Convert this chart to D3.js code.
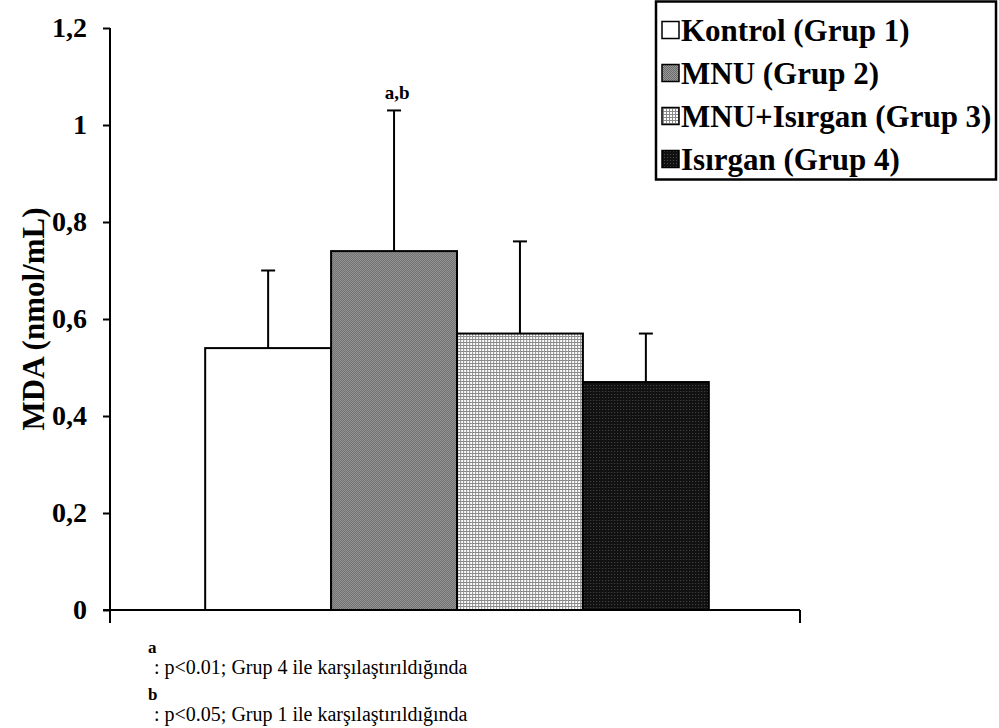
<!DOCTYPE html>
<html>
<head>
<meta charset="utf-8">
<script src="https://cdn.jsdelivr.net/npm/d3@7"></script>
<style>
  html, body { margin: 0; padding: 0; background: #fff; }
  svg { display: block; }
  text { font-family: "Liberation Serif", "Times New Roman", serif; fill: #000; }
</style>
</head>
<body>
<svg id="chart" width="999" height="728"></svg>
<script>
// Group labels, means and SD (MDA, nmol/mL)
const groups = ["Kontrol (Grup 1)", "MNU (Grup 2)", "MNU+Isırgan (Grup 3)", "Isırgan (Grup 4)"];
const means = [0.54, 0.74, 0.57, 0.47];
const sds = [0.16, 0.29, 0.19, 0.10];
const yTicks = [0, 0.2, 0.4, 0.6, 0.8, 1, 1.2];
const yTickLabels = ["0", "0,2", "0,4", "0,6", "0,8", "1", "1,2"];
const sigLabels = ["", "a,b", "", ""];
const footnotes = [
  { mark: "a", text: ": p<0.01; Grup 4 ile karşılaştırıldığında" },
  { mark: "b", text: ": p<0.05; Grup 1 ile karşılaştırıldığında" }
];

const svg = d3.select("#chart");
const defs = svg.append("defs");

// Fill patterns for each group
function pattern(id, size, bg, cells) {
  const p = defs.append("pattern").attr("id", id)
    .attr("patternUnits", "userSpaceOnUse").attr("width", size).attr("height", size);
  p.append("rect").attr("width", size).attr("height", size).attr("fill", bg);
  cells.forEach(c => p.append("rect").attr("x", c[0]).attr("y", c[1])
    .attr("width", c[2]).attr("height", c[3]).attr("fill", c[4]));
  return "url(#" + id + ")";
}
const fills = [
  "#ffffff",
  pattern("pGray", 2, "#9a9a9a", [[0, 0, 1, 1, "#6a6a6a"], [1, 1, 1, 1, "#6a6a6a"]]),
  pattern("pGrid", 3, "#ffffff", [[0, 0, 3, 1, "#8a8a8a"], [0, 0, 1, 3, "#8a8a8a"]]),
  pattern("pDark", 3, "#111111", [[1, 1, 1, 1, "#4a4a4a"]])
];

const plotLeft = 110, plotRight = 800, plotTop = 28, plotBottom = 610;

const y = d3.scaleLinear().domain([0, 1.2]).range([plotBottom, plotTop]);
const x0 = d3.scaleBand().domain(["MDA"]).range([plotLeft, plotRight]).paddingOuter(0.185).paddingInner(0);
const x1 = d3.scaleBand().domain(groups).range([0, x0.bandwidth()]).padding(0);

// Bars
const g = svg.append("g").attr("transform", `translate(${x0("MDA") + 2},0)`);
g.selectAll("rect.bar").data(groups).join("rect")
  .attr("class", "bar")
  .attr("x", d => x1(d))
  .attr("y", (d, i) => y(means[i]))
  .attr("width", x1.bandwidth())
  .attr("height", (d, i) => y(0) - y(means[i]))
  .attr("fill", (d, i) => fills[i])
  .attr("stroke", "#000").attr("stroke-width", 2);

// Error bars (upper only)
const cap = 7;
groups.forEach((d, i) => {
  const cx = x1(d) + x1.bandwidth() / 2;
  const top = y(means[i] + sds[i]);
  g.append("line").attr("x1", cx).attr("x2", cx)
    .attr("y1", y(means[i])).attr("y2", top)
    .attr("stroke", "#000").attr("stroke-width", 2);
  g.append("line").attr("x1", cx - cap).attr("x2", cx + cap)
    .attr("y1", top).attr("y2", top)
    .attr("stroke", "#000").attr("stroke-width", 2);
  if (sigLabels[i]) {
    g.append("text").attr("x", cx + 3).attr("y", top - 11)
      .attr("text-anchor", "middle").attr("font-weight", "bold").attr("font-size", 19)
      .text(sigLabels[i]);
  }
});

// Y axis
const yAxis = d3.axisLeft(y).tickValues(yTicks)
  .tickFormat((d, i) => yTickLabels[i]).tickSize(7).tickPadding(16);
const ya = svg.append("g").attr("transform", `translate(${plotLeft},0)`).call(yAxis);
ya.select(".domain").attr("d", `M0,${plotTop}V${plotBottom + 13}`).attr("stroke-width", 2);
ya.selectAll(".tick line").attr("stroke-width", 2);
ya.selectAll(".tick text").attr("font-family", "Liberation Serif, Times New Roman, serif")
  .attr("font-weight", "bold").attr("font-size", 28).attr("fill", "#000");

// X axis with boundary ticks at both ends
const xa = svg.append("g");
xa.append("line").attr("x1", plotLeft - 7).attr("x2", plotRight).attr("y1", plotBottom).attr("y2", plotBottom)
  .attr("stroke", "#000").attr("stroke-width", 2);
xa.append("line").attr("x1", plotRight).attr("x2", plotRight).attr("y1", plotBottom).attr("y2", plotBottom + 13)
  .attr("stroke", "#000").attr("stroke-width", 2);

// Y axis title
svg.append("text")
  .attr("transform", `translate(33,${(plotTop + plotBottom) / 2}) rotate(-90)`)
  .attr("text-anchor", "middle").attr("dominant-baseline", "central")
  .attr("font-weight", "bold").attr("font-size", 31)
  .text("MDA (nmol/mL)");

// Legend
const lg = svg.append("g");
lg.append("rect").attr("x", 656).attr("y", 1.5).attr("width", 340).attr("height", 178)
  .attr("fill", "#fff").attr("stroke", "#000").attr("stroke-width", 2.5);
groups.forEach((d, i) => {
  const cy = 30 + i * 43;
  lg.append("rect").attr("x", 662).attr("y", cy - 8.5).attr("width", 17).attr("height", 17)
    .attr("fill", fills[i]).attr("stroke", "#000").attr("stroke-width", 1.5);
  lg.append("text").attr("x", 681).attr("y", cy + 11)
    .attr("font-weight", "bold").attr("font-size", 31).text(d);
});

// Footnotes: superscript marker above the explanation line
footnotes.forEach((f, i) => {
  const base = 674 + i * 47;
  svg.append("text").attr("x", 148).attr("y", base - 21)
    .attr("font-weight", "bold").attr("font-size", 17).text(f.mark);
  svg.append("text").attr("x", 154).attr("y", base)
    .attr("font-size", 20).text(f.text);
});
</script>
</body>
</html>
